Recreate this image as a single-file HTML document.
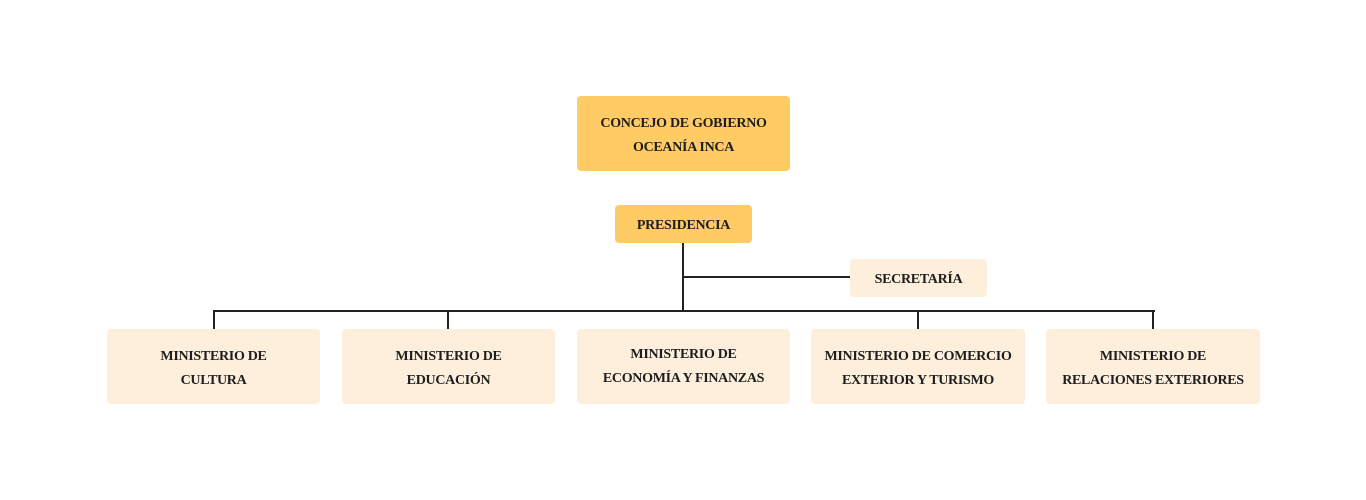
<!DOCTYPE html>
<html><head><meta charset="utf-8"><style>
body{margin:0;width:1366px;height:500px;background:#fff;position:relative;overflow:hidden;font-family:"Liberation Serif",serif;}
.b{position:absolute;border-radius:4px;display:flex;align-items:center;justify-content:center;text-align:center;font-weight:bold;font-size:14px;line-height:24px;color:#1e1e1e;letter-spacing:-0.3px;box-sizing:border-box;padding-top:4px}
.d{background:#FECB65}.l{background:#FDEFDC}
.h{position:absolute;background:#222;height:2px}.v{position:absolute;background:#222;width:2px}
</style></head><body>
<div class="v" style="left:682px;top:243px;height:69px"></div>
<div class="h" style="left:682px;top:276px;width:168px"></div>
<div class="h" style="left:213px;top:310px;width:942px"></div>
<div class="v" style="left:213px;top:310px;height:19px"></div>
<div class="v" style="left:447px;top:310px;height:19px"></div>
<div class="v" style="left:917px;top:310px;height:19px"></div>
<div class="v" style="left:1152px;top:310px;height:19px"></div>
<div class="b d" style="left:577px;top:96px;width:213px;height:75px">CONCEJO DE GOBIERNO<br>OCEANÍA INCA</div>
<div class="b d" style="left:615px;top:205px;width:137px;height:38px">PRESIDENCIA</div>
<div class="b l" style="left:850px;top:259px;width:137px;height:38px">SECRETARÍA</div>
<div class="b l" style="left:107px;top:329px;width:213px;height:75px">MINISTERIO DE<br>CULTURA</div>
<div class="b l" style="left:342px;top:329px;width:213px;height:75px">MINISTERIO DE<br>EDUCACIÓN</div>
<div class="b l" style="left:577px;top:329px;width:213px;height:75px;padding-top:0">MINISTERIO DE<br>ECONOMÍA Y FINANZAS</div>
<div class="b l" style="left:811px;top:329px;width:214px;height:75px">MINISTERIO DE COMERCIO<br>EXTERIOR Y TURISMO</div>
<div class="b l" style="left:1046px;top:329px;width:214px;height:75px">MINISTERIO DE<br>RELACIONES EXTERIORES</div>
</body></html>
